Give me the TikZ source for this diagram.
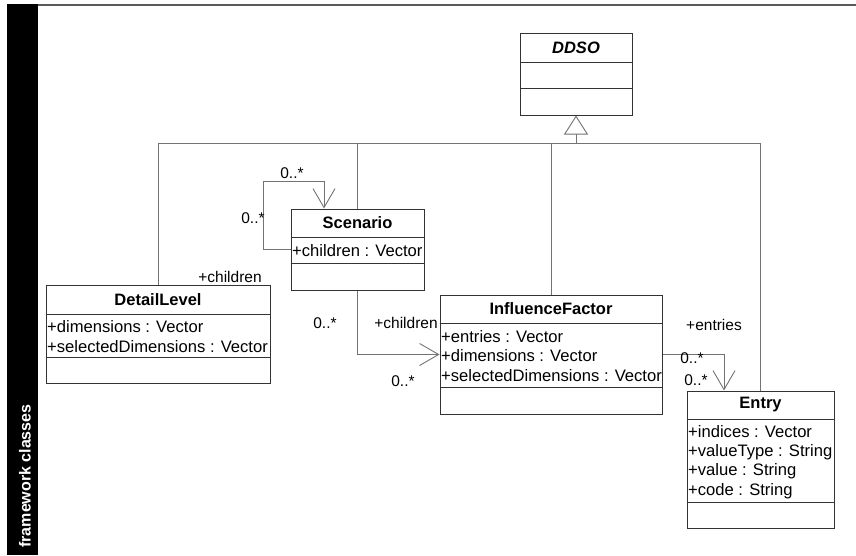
\documentclass[tikz,border=0pt]{standalone}
\usepackage{fontspec}
\setmainfont{Liberation Sans}
\usetikzlibrary{arrows.meta}
\begin{document}
\begin{tikzpicture}[x=1pt,y=-1pt,
  classbox/.style={draw=black!80,line width=1pt,inner sep=0pt,rectangle},
  divider/.style={draw=black!80,line width=1pt},
  cname/.style={font=\bfseries\fontsize{16.5}{20}\selectfont,inner sep=0pt},
  attr/.style={font=\fontsize{16.6}{20}\selectfont,anchor=west,inner sep=0pt},
  lbl/.style={font=\fontsize{15.5}{18}\selectfont,inner sep=0pt},
  conn/.style={draw=black!55,line width=0.9pt},
  assoc/.style={conn,-{Straight Barb[length=19pt,width=22pt,line width=0.9pt]}},
  gen/.style={conn,-{Triangle[open,length=19pt,width=24pt,fill=white,line width=0.9pt]}}]
\useasboundingbox (0,0) rectangle (856,555);

% frame: title bar and top rule
\fill[black] (7,4) rectangle (38,555);
\draw[draw=black!65,line width=1.8pt] (38,5) -- (856,5);
\node[rotate=90,text=white,font=\bfseries\fontsize{16}{19}\selectfont,inner sep=0pt] (title) at (25,476) {framework classes};

% DDSO
\node[classbox,minimum width=112pt,minimum height=82pt] (ddso) at (576,74) {};
\draw[divider] ([yshift=-30pt]ddso.north west) -- ([yshift=-30pt]ddso.north east);
\draw[divider] ([yshift=-56pt]ddso.north west) -- ([yshift=-56pt]ddso.north east);
\node[cname,font=\bfseries\itshape\fontsize{16.5}{20}\selectfont] (ddsoname) at (576,48) {DDSO};

% Scenario
\node[classbox,minimum width=133pt,minimum height=81pt] (sc) at (357.5,249.5) {};
\draw[divider] ([yshift=-29pt]sc.north west) -- ([yshift=-29pt]sc.north east);
\draw[divider] ([yshift=-55pt]sc.north west) -- ([yshift=-55pt]sc.north east);
\node[cname] (scname) at (357.5,223) {Scenario};
\node[attr] (sca1) at (292,251) {+children : Vector};

% DetailLevel
\node[classbox,minimum width=224pt,minimum height=98pt] (dl) at (158,334) {};
\draw[divider] ([yshift=-30pt]dl.north west) -- ([yshift=-30pt]dl.north east);
\draw[divider] ([yshift=-73pt]dl.north west) -- ([yshift=-73pt]dl.north east);
\node[cname] (dlname) at (158,300) {DetailLevel};
\node[attr] (dla1) at (47,327) {+dimensions : Vector};
\node[attr] (dla2) at (47,347) {+selectedDimensions : Vector};

% InfluenceFactor
\node[classbox,minimum width=222pt,minimum height=119pt] (if) at (551,354.5) {};
\draw[divider] ([yshift=-29pt]if.north west) -- ([yshift=-29pt]if.north east);
\draw[divider] ([yshift=-93pt]if.north west) -- ([yshift=-93pt]if.north east);
\node[cname] (ifname) at (551,309) {InfluenceFactor};
\node[attr] (ifa1) at (441,337) {+entries : Vector};
\node[attr] (ifa2) at (441,356) {+dimensions : Vector};
\node[attr] (ifa3) at (441,376) {+selectedDimensions : Vector};

% Entry
\node[classbox,minimum width=147pt,minimum height=137pt] (en) at (760.5,459.5) {};
\draw[divider] ([yshift=-29pt]en.north west) -- ([yshift=-29pt]en.north east);
\draw[divider] ([yshift=-112pt]en.north west) -- ([yshift=-112pt]en.north east);
\node[cname] (enname) at (760.5,405) {Entry};
\node[attr] (ena1) at (688,432) {+indices : Vector};
\node[attr] (ena2) at (688,452) {+valueType : String};
\node[attr] (ena3) at (688,471) {+value : String};
\node[attr] (ena4) at (688,491) {+code : String};

% generalisation to DDSO
\coordinate (hub) at (576,143);
\draw[conn] (dl.north) |- (hub);
\draw[conn] (sc.north) |- (hub);
\draw[conn] (if.north) |- (hub);
\draw[conn] (en.north) |- (hub);
\draw[gen] (hub) -- (ddso.south);

% Scenario children (self association)
\coordinate (loop) at (263,181);
\draw[assoc] (sc.west) -| (loop) -| ([xshift=-33.5pt]sc.north);
\node[lbl] (m1) at (292,173) {0..*};
\node[lbl] (m2) at (253,218) {0..*};
\node[lbl] (r1) at (230,277) {+children};

% Scenario to InfluenceFactor
\draw[assoc] (sc.south) |- (if.west);
\node[lbl] (m3) at (325,323) {0..*};
\node[lbl] (r2) at (406,323) {+children};
\node[lbl] (m4) at (403,381) {0..*};

% InfluenceFactor to Entry
\draw[assoc] (if.east) -| ([xshift=-36.5pt]en.north);
\node[lbl] (r3) at (714,325) {+entries};
\node[lbl] (m5) at (692,358) {0..*};
\node[lbl] (m6) at (696,380) {0..*};
\end{tikzpicture}
\end{document}
